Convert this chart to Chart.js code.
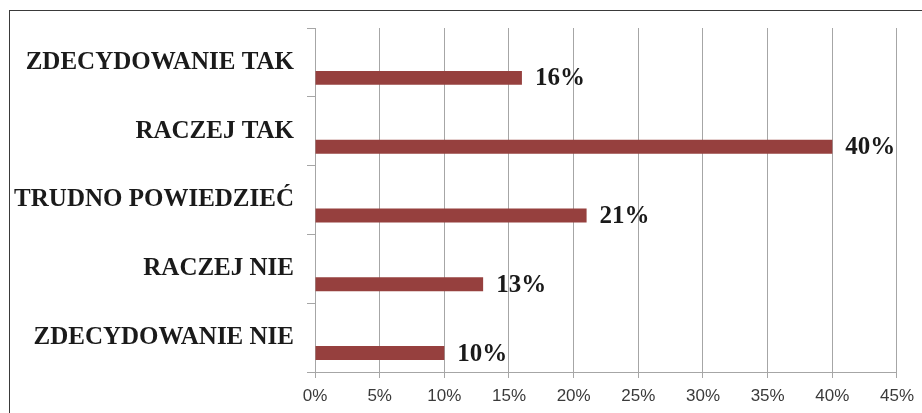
<!DOCTYPE html>
<html lang="pl">

<head>
    <meta charset="UTF-8">
    <meta name="viewport" content="width=device-width, initial-scale=1.0">
    <script src="https://cdn.jsdelivr.net/npm/chart.js"></script>
    <title>Odpowiedzi</title>
    <style>
        html, body { margin: 0; padding: 0; background: #fff; overflow: hidden; }
        .container_chart { position: relative; width: 922px; height: 413px; overflow: hidden; }
        .ramka {
            position: absolute; left: 9px; top: 10px; width: 1100px; height: 600px;
            border: 1.5px solid #3a3a3a; pointer-events: none;
        }
    </style>
</head>

<body>
    <div class="container_chart">
        <canvas id="odpowiedziChart"></canvas>
        <div class="ramka"></div>
    </div>

    <script>
        const kategorie = ['ZDECYDOWANIE TAK', 'RACZEJ TAK', 'TRUDNO POWIEDZIEĆ', 'RACZEJ NIE', 'ZDECYDOWANIE NIE'];
        const wartosci = [16, 40, 21, 13, 10];
        const pusta = [null, null, null, null, null]; // pusta seria - slupki siedza w dolnej polowie kategorii
        const osMin = 0;
        const osMax = 45;
        const osKrok = 5;

        // etykiety z wartosciami obok slupkow
        const etykietyWartosci = {
            id: 'etykietyWartosci',
            afterDatasetsDraw(chart) {
                const ctx = chart.ctx;
                const meta = chart.getDatasetMeta(1);
                ctx.save();
                ctx.font = 'bold 25px "Liberation Serif", "Times New Roman", serif';
                ctx.fillStyle = '#1a1a1a';
                ctx.textAlign = 'left';
                ctx.textBaseline = 'middle';
                meta.data.forEach((bar, i) => {
                    ctx.fillText(wartosci[i] + '%', bar.x + 13, bar.y + 1);
                });
                ctx.restore();
            }
        };

        const ctx = document.getElementById('odpowiedziChart').getContext('2d');
        new Chart(ctx, {
            type: 'bar',
            data: {
                labels: kategorie,
                datasets: [{
                    label: '',
                    data: pusta,
                    backgroundColor: 'rgba(0,0,0,0)'
                }, {
                    label: 'Odpowiedzi',
                    data: wartosci,
                    backgroundColor: '#96403e',
                    borderWidth: 0
                }]
            },
            options: {
                indexAxis: 'y',
                responsive: true,
                maintainAspectRatio: false,
                animation: false,
                categoryPercentage: 0.9,
                barPercentage: 0.45,
                layout: { padding: { top: 26, right: 25, bottom: 0, left: 0 } },
                plugins: {
                    legend: { display: false },
                    tooltip: { enabled: false }
                },
                scales: {
                    x: {
                        min: osMin,
                        max: osMax,
                        ticks: {
                            stepSize: osKrok,
                            callback: v => v + '%',
                            color: '#3a3a3a',
                            padding: 8,
                            font: { family: '"Liberation Sans", Arial, sans-serif', size: 17 }
                        },
                        grid: { color: '#a6a6a6', lineWidth: 1, tickLength: 6 },
                        border: { color: '#a6a6a6', width: 1 },
                        afterFit(scale) { scale.height = 41; }
                    },
                    y: {
                        ticks: {
                            color: '#1a1a1a',
                            padding: 13,
                            font: { family: '"Liberation Serif", "Times New Roman", serif', size: 25, weight: 'bold' }
                        },
                        grid: { drawOnChartArea: false, color: '#a6a6a6', tickLength: 8 },
                        border: { color: '#a6a6a6', width: 1 },
                        afterFit(scale) { scale.width = 315; }
                    }
                }
            },
            plugins: [etykietyWartosci]
        });
    </script>
</body>

</html>
